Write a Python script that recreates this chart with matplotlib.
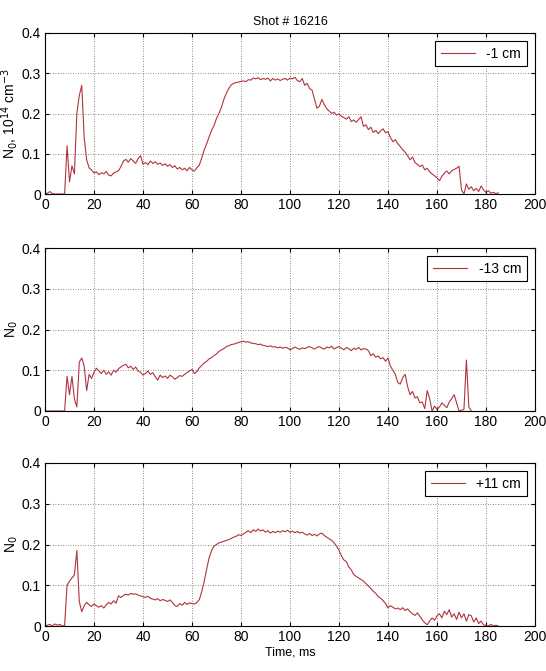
import numpy as np
import matplotlib
matplotlib.use("Agg")
import matplotlib.pyplot as plt
from matplotlib.ticker import FuncFormatter

plt.rcParams['font.family'] = ['Liberation Sans Narrow', 'Liberation Sans', 'DejaVu Sans']

title = "Shot # 16216"
legend_labels = ["-1 cm", "-13 cm", "+11 cm"]
ylabels = ["N$_0$, 10$^{14}$ cm$^{-3}$", "N$_0$", "N$_0$"]
xlabel = "Time, ms"
xticks = [0, 20, 40, 60, 80, 100, 120, 140, 160, 180, 200]
yticks = [0, 0.1, 0.2, 0.3, 0.4]

# values sampled every 1 ms starting at t = 0
n_minus1 = [
    0.000, 0.002, 0.006, 0.001, 0.000, 0.000, 0.000, 0.000, 0.000, 0.120,
    0.030, 0.070, 0.050, 0.200, 0.245, 0.270, 0.140, 0.085, 0.065, 0.060,
    0.052, 0.055, 0.048, 0.053, 0.050, 0.056, 0.047, 0.045, 0.052, 0.055,
    0.058, 0.068, 0.082, 0.086, 0.079, 0.088, 0.082, 0.076, 0.088, 0.095,
    0.074, 0.078, 0.073, 0.082, 0.076, 0.080, 0.074, 0.077, 0.071, 0.075,
    0.069, 0.073, 0.066, 0.070, 0.062, 0.066, 0.060, 0.064, 0.058, 0.066,
    0.060, 0.057, 0.065, 0.072, 0.090, 0.110, 0.125, 0.142, 0.158, 0.170,
    0.188, 0.200, 0.215, 0.235, 0.250, 0.262, 0.271, 0.275, 0.277, 0.278,
    0.280, 0.281, 0.279, 0.284, 0.283, 0.288, 0.286, 0.289, 0.284, 0.287,
    0.285, 0.288, 0.281, 0.287, 0.283, 0.286, 0.282, 0.285, 0.287, 0.283,
    0.288, 0.286, 0.290, 0.282, 0.279, 0.287, 0.270, 0.275, 0.262, 0.258,
    0.236, 0.213, 0.218, 0.235, 0.222, 0.212, 0.206, 0.200, 0.203, 0.196,
    0.199, 0.193, 0.190, 0.186, 0.192, 0.180, 0.184, 0.178, 0.185, 0.192,
    0.168, 0.172, 0.160, 0.166, 0.153, 0.158, 0.150, 0.157, 0.162, 0.152,
    0.155, 0.140, 0.130, 0.135, 0.125, 0.118, 0.110, 0.104, 0.095, 0.085,
    0.092, 0.078, 0.074, 0.068, 0.072, 0.060, 0.064, 0.055, 0.050, 0.045,
    0.040, 0.033, 0.044, 0.052, 0.057, 0.050, 0.058, 0.061, 0.064, 0.069,
    0.010, 0.000, 0.025, 0.012, 0.018, 0.008, 0.014, 0.006, 0.020, 0.010,
    0.004, 0.008, 0.002, 0.004, 0.001, 0.003,
]

n_minus13 = [
    0.000, 0.000, 0.000, 0.000, 0.000, 0.000, 0.000, 0.000, 0.000, 0.085,
    0.040, 0.085, 0.030, 0.010, 0.120, 0.130, 0.110, 0.050, 0.090, 0.080,
    0.095, 0.105, 0.098, 0.092, 0.100, 0.090, 0.096, 0.088, 0.100, 0.095,
    0.104, 0.108, 0.112, 0.115, 0.106, 0.110, 0.102, 0.108, 0.098, 0.095,
    0.088, 0.092, 0.098, 0.090, 0.094, 0.084, 0.076, 0.088, 0.082, 0.086,
    0.080, 0.088, 0.084, 0.078, 0.082, 0.087, 0.085, 0.090, 0.094, 0.098,
    0.102, 0.092, 0.097, 0.106, 0.112, 0.118, 0.122, 0.128, 0.131, 0.136,
    0.140, 0.146, 0.150, 0.153, 0.158, 0.160, 0.163, 0.164, 0.166, 0.168,
    0.170, 0.171, 0.169, 0.170, 0.167, 0.166, 0.165, 0.163, 0.164, 0.161,
    0.160, 0.158, 0.160, 0.157, 0.158, 0.155, 0.157, 0.154, 0.156, 0.155,
    0.150, 0.153, 0.157, 0.154, 0.151, 0.155, 0.153, 0.156, 0.158, 0.155,
    0.152, 0.156, 0.158, 0.154, 0.152, 0.157, 0.155, 0.159, 0.152, 0.156,
    0.158, 0.154, 0.150, 0.156, 0.153, 0.148, 0.154, 0.151, 0.156, 0.150,
    0.153, 0.152, 0.148, 0.136, 0.140, 0.132, 0.135, 0.128, 0.131, 0.122,
    0.130, 0.110, 0.100, 0.090, 0.070, 0.066, 0.082, 0.090, 0.060, 0.040,
    0.048, 0.032, 0.035, 0.020, 0.022, 0.006, 0.050, 0.030, 0.000, 0.012,
    0.004, 0.010, 0.020, 0.014, 0.008, 0.022, 0.030, 0.040, 0.020, 0.000,
    0.002, 0.004, 0.125, 0.010, 0.000,
]

n_plus11 = [
    0.000, 0.002, 0.004, 0.000, 0.005, 0.002, 0.004, 0.000, 0.001, 0.100,
    0.110, 0.118, 0.125, 0.185, 0.060, 0.035, 0.050, 0.058, 0.052, 0.048,
    0.054, 0.050, 0.046, 0.050, 0.044, 0.052, 0.058, 0.054, 0.062, 0.056,
    0.074, 0.070, 0.075, 0.078, 0.076, 0.080, 0.078, 0.079, 0.076, 0.074,
    0.072, 0.070, 0.073, 0.068, 0.066, 0.064, 0.067, 0.062, 0.065, 0.063,
    0.060, 0.064, 0.058, 0.050, 0.048, 0.055, 0.051, 0.058, 0.053, 0.057,
    0.055, 0.054, 0.058, 0.065, 0.085, 0.110, 0.140, 0.168, 0.185, 0.196,
    0.200, 0.204, 0.206, 0.208, 0.210, 0.212, 0.215, 0.218, 0.220, 0.224,
    0.222, 0.226, 0.230, 0.234, 0.229, 0.236, 0.232, 0.238, 0.233, 0.236,
    0.230, 0.234, 0.228, 0.232, 0.229, 0.233, 0.230, 0.234, 0.231, 0.235,
    0.230, 0.233, 0.229, 0.232, 0.228, 0.230, 0.226, 0.223, 0.227, 0.222,
    0.225, 0.221, 0.226, 0.228, 0.222, 0.218, 0.214, 0.210, 0.204, 0.196,
    0.186, 0.172, 0.162, 0.158, 0.145, 0.138, 0.126, 0.122, 0.118, 0.114,
    0.110, 0.104, 0.098, 0.092, 0.085, 0.080, 0.072, 0.068, 0.062, 0.055,
    0.045, 0.050, 0.046, 0.042, 0.044, 0.040, 0.045, 0.038, 0.042, 0.035,
    0.030, 0.026, 0.032, 0.024, 0.015, 0.008, 0.003, 0.012, 0.020, 0.014,
    0.025, 0.030, 0.020, 0.036, 0.028, 0.040, 0.022, 0.030, 0.016, 0.034,
    0.020, 0.030, 0.012, 0.028, 0.025, 0.010, 0.020, 0.006, 0.012, 0.003,
    0.001, 0.000, 0.004, 0.000, 0.002, 0.000,
]

series = [n_minus1, n_minus13, n_plus11]
line_color = "#b0343c"

fig = plt.figure(figsize=(5.46, 6.71), dpi=100)
left, width = 45 / 546, 490 / 546
rects = [
    (left, 1 - 194 / 671, width, 161 / 671),
    (left, 1 - 411 / 671, width, 163 / 671),
    (left, 1 - 626 / 671, width, 163 / 671),
]

fmt = FuncFormatter(lambda v, p: "0" if abs(v) < 1e-9 else ("%g" % v))

for i, (vals, rect) in enumerate(zip(series, rects)):
    ax = fig.add_axes(rect)
    t = np.arange(len(vals))
    ax.plot(t, vals, color=line_color, lw=0.8, label=legend_labels[i])
    ax.set_xlim(0, 200)
    ax.set_ylim(0, 0.4)
    ax.set_xticks(xticks)
    ax.set_yticks(yticks)
    ax.yaxis.set_major_formatter(fmt)
    ax.grid(True, linestyle=(0, (1, 2)), color="#666666", lw=0.6)
    ax.tick_params(direction="in", length=3, labelsize=10, top=True, right=True, pad=3)
    for s in ax.spines.values():
        s.set_linewidth(0.8)
    ax.set_ylabel(ylabels[i], fontsize=10, labelpad=0)
    ax.yaxis.set_label_coords(-0.05, 0.5)
    leg = ax.legend(loc="upper right", fontsize=10, frameon=True, fancybox=False,
                    edgecolor="black", framealpha=1, handlelength=2.5,
                    borderpad=0.4, borderaxespad=0.6)
    leg.get_frame().set_linewidth(0.8)
    if i == 0:
        ax.set_title(title, fontsize=9, pad=6)
    if i == 2:
        ax.set_xlabel(xlabel, fontsize=9, labelpad=2)

fig.savefig("out.png", dpi=100)
